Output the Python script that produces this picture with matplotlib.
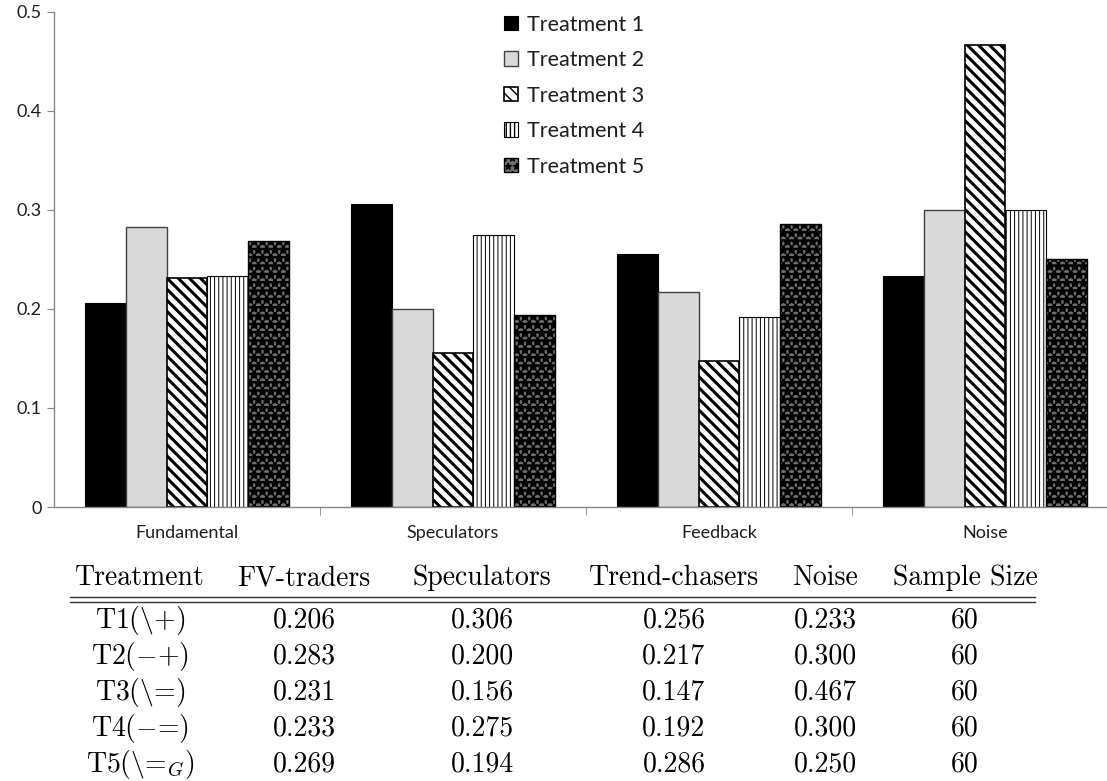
import matplotlib
matplotlib.use("Agg")
import matplotlib.pyplot as plt
import numpy as np
from matplotlib.lines import Line2D

# bar chart data
categories = ["Fundamental", "Speculators", "Feedback", "Noise"]
series_names = ["Treatment 1", "Treatment 2", "Treatment 3", "Treatment 4", "Treatment 5"]
treatment_1 = [0.206, 0.306, 0.256, 0.233]
treatment_2 = [0.283, 0.200, 0.217, 0.300]
treatment_3 = [0.231, 0.156, 0.147, 0.467]
treatment_4 = [0.233, 0.275, 0.192, 0.300]
treatment_5 = [0.269, 0.194, 0.286, 0.250]
y_ticks = [0, 0.1, 0.2, 0.3, 0.4, 0.5]
y_tick_labels = ["0", "0.1", "0.2", "0.3", "0.4", "0.5"]

# table data
table_header = ["Treatment", "FV-traders", "Speculators", "Trend-chasers", "Noise", "Sample Size"]
row_labels = [r"T1($\backslash$+)", r"T2($-$+)", r"T3($\backslash$=)", r"T4($-$=)", r"T5($\backslash$=$_G$)"]
sample_size = [60, 60, 60, 60, 60]

series = [treatment_1, treatment_2, treatment_3, treatment_4, treatment_5]

plt.rcParams["mathtext.fontset"] = "cm"
plt.rcParams["font.family"] = ["Lato", "DejaVu Sans"]

W, H = 1107, 781
fig = plt.figure(figsize=(W / 100, H / 100), dpi=100)

def px(x, y):
    # pixel position (from top left) to figure fraction
    return x / W, 1 - y / H

ax = fig.add_axes([54 / W, (H - 507) / H, 1064 / W, 495 / H])

styles = [
    dict(color="black", edgecolor="black", hatch=None, hlw=None, lw=0.8),
    dict(color="#d9d9d9", edgecolor="#404040", hatch=None, hlw=None, lw=1.0),
    dict(color="white", edgecolor="black", hatch="\\\\\\", hlw=2.2, lw=1.2),
    dict(color="white", edgecolor="black", hatch="||||", hlw=0.7, lw=0.8),
    dict(color="#6e6e6e", edgecolor="black", hatch="**", hlw=2.0, lw=1.0),
]

x = np.arange(len(categories))
width = 0.154
for i, (vals, name, st) in enumerate(zip(series, series_names, styles)):
    bars = ax.bar(x + (i - 2) * width, vals, width, color=st["color"],
                  edgecolor=st["edgecolor"], linewidth=st["lw"],
                  hatch=st["hatch"], label=name, zorder=2)
    if st["hlw"] is not None:
        for b in bars:
            if hasattr(b, "set_hatch_linewidth"):
                b.set_hatch_linewidth(st["hlw"])

ax.set_xlim(-0.5, 3.5)
ax.set_ylim(0, 0.5)

axis_gray = "#868686"
text_col = "#1e1e1e"
for s in ["top", "right"]:
    ax.spines[s].set_visible(False)
for s in ["left", "bottom"]:
    ax.spines[s].set_color(axis_gray)
    ax.spines[s].set_linewidth(1.0)

ax.set_yticks(y_ticks)
ax.set_yticklabels(y_tick_labels)
ax.tick_params(axis="y", direction="out", length=5, color=axis_gray,
               labelsize=13, labelcolor=text_col, pad=4)

ax.set_xticks(x)
ax.set_xticklabels(categories)
ax.set_xticks([0.5, 1.5, 2.5], minor=True)
ax.tick_params(axis="x", which="major", length=0, labelsize=13,
               labelcolor=text_col, pad=13)
ax.tick_params(axis="x", which="minor", direction="out", length=6,
               color=axis_gray)

leg = ax.legend(loc="upper left", bbox_to_anchor=px(493, 4),
                bbox_transform=fig.transFigure, frameon=False,
                fontsize=15.5, handlelength=0.66, handleheight=0.66,
                handletextpad=0.4, labelspacing=0.72, borderpad=0)
for t in leg.get_texts():
    t.set_color(text_col)

# table below the chart
col_x = [140, 304, 482, 674, 825, 965]
header_y = 585
row_y = [628, 664, 700, 736, 772]
tfont = dict(family="cmr10", fontsize=20, ha="center", va="baseline", color="black")

for cx, h in zip(col_x, table_header):
    fig.text(*px(cx, header_y), h, **tfont)

for r, label in enumerate(row_labels):
    vals = [label] + ["%.3f" % series[r][c] for c in range(len(categories))] + [str(sample_size[r])]
    for cx, v in zip(col_x, vals):
        fig.text(*px(cx, row_y[r]), v, **tfont)

for ry in [597, 602]:
    x0, y0 = px(70, ry)
    x1, _ = px(1035, ry)
    fig.add_artist(Line2D([x0, x1], [y0, y0], transform=fig.transFigure,
                          color="#333333", linewidth=1.0))

fig.savefig("out.png", dpi=100)
